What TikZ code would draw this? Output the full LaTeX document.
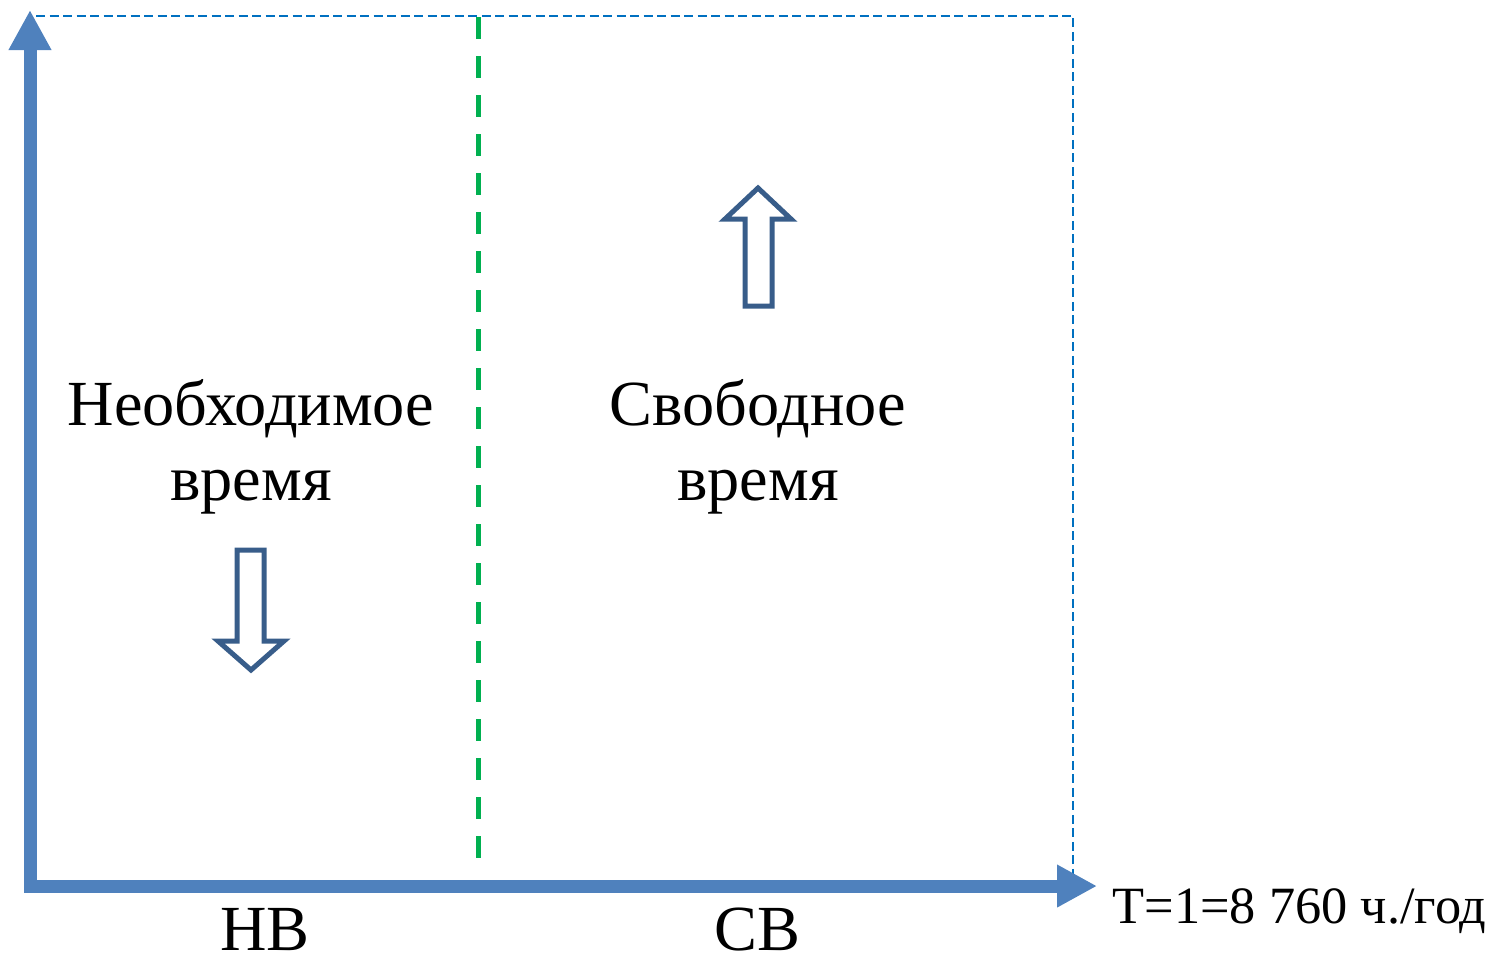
\documentclass[tikz,border=0pt]{standalone}
\usepackage{fontspec}
\setmainfont{Liberation Serif}
\usetikzlibrary{arrows.meta}
\definecolor{axisblue}{RGB}{79,129,189}
\definecolor{framecol}{RGB}{0,112,192}
\definecolor{splitgreen}{RGB}{0,176,80}
\definecolor{hollowcol}{RGB}{56,93,138}
\tikzset{
  axis/.style={axisblue, line width=1.3mm, <->, >={Triangle[length=4mm,width=4mm]}},
  frame/.style={framecol, line width=0.2mm, dash pattern=on 0.9mm off 0.45mm},
  split/.style={splitgreen, line width=0.5mm, dash pattern=on 2.2mm off 1.7mm},
  hollow/.style={hollowcol, line width=0.5mm, fill=white},
  bigtext/.style={anchor=base, inner sep=0pt, font=\fontsize{18.3}{22}\selectfont},
}
\begin{document}
\begin{tikzpicture}[x=0.1mm, y=-0.1mm]
\useasboundingbox (0,0) rectangle (1495,962);

% axes and frame
\coordinate (ytip) at (30,10);
\coordinate (O) at (30,886);
\coordinate (xtip) at (1097,886);
\coordinate (tl) at (36,16);
\coordinate (tr) at (1073,16);
\coordinate (br) at (1073,880);
\draw[frame] (tl) -- (tr) -- (br);
\draw[axis] (ytip) -- (O) -- (xtip);

% border between the two parts
\coordinate (gtop) at (478,17);
\coordinate (gbot) at (478,872);
\draw[split] (gtop) -- (gbot);

% hollow arrows
\draw[hollow] (758,188) -- (791,219) -- (772,219) -- (772,306) -- (745,306)
  -- (745,219) -- (725,219) -- cycle;
\draw[hollow] (251,670) -- (284,641) -- (264,641) -- (264,550) -- (237,550)
  -- (237,641) -- (218,641) -- cycle;

% texts
\node[bigtext] (need) at (251,425) {Необходимое};
\node[bigtext] (needb) at (251,500) {время};
\node[bigtext] (free) at (758,425) {Свободное};
\node[bigtext] (freeb) at (758,500) {время};
\node[bigtext] (nv) at (265,950) {НВ};
\node[bigtext] (sv) at (757,950) {СВ};
\node[anchor=base west, inner sep=0pt, font=\fontsize{14.9}{18}\selectfont] (T) at (1112,923) {Т=1=8 760 ч./год};

\end{tikzpicture}
\end{document}
